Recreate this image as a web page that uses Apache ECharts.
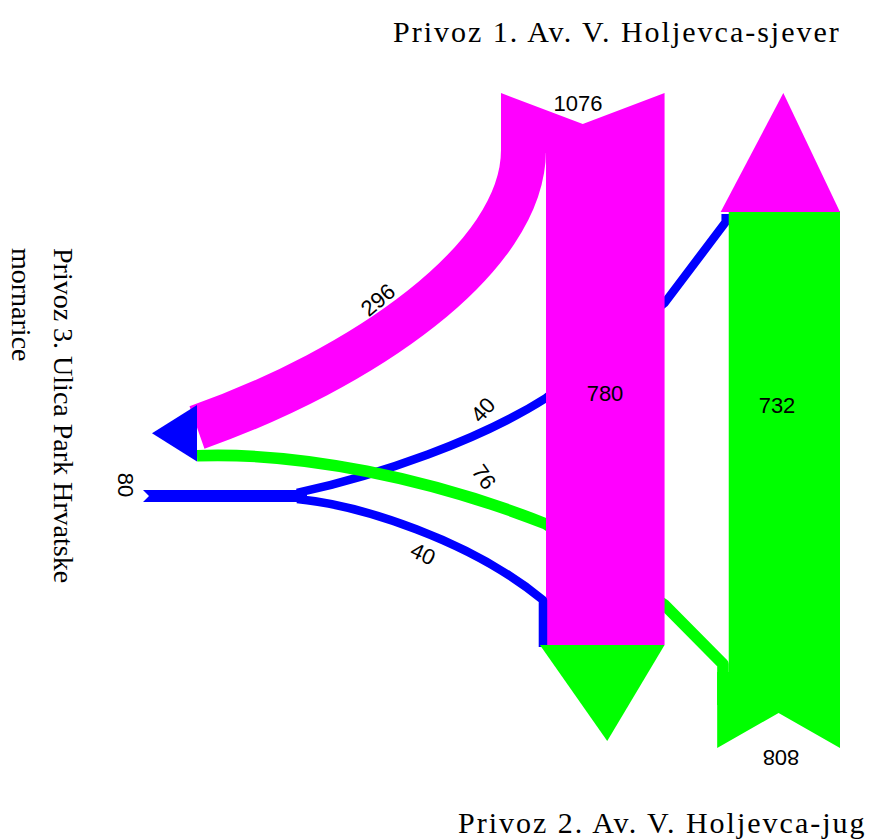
<html>
<head>
<script src="https://cdn.jsdelivr.net/npm/echarts@6/dist/echarts.min.js"></script>
<style>
  body { margin: 0; background: #fff; }
  #main { width: 881px; height: 839px; }
  /* the old plot had its serif captions spaced out */
  #main text[style*="30px"] { letter-spacing: 2px; }
</style>
</head>
<body>
<div id="main"></div>
<script type="text/javascript">
// arms of the intersection: 0 = sjever, 1 = jug, 2 = Park Hrvatske mornarice
var approaches = ['Privoz 1. Av. V. Holjevca-sjever', 'Privoz 2. Av. V. Holjevca-jug', 'Privoz 3. Ulica Park Hrvatske\nmornarice'];
var armColors = ['#ff00ff', '#00ff00', '#0000ff'];

// turning volumes (veh/h)
var flowFrom  = [0, 0, 1, 1, 2, 2];
var flowTo    = [1, 2, 0, 2, 0, 1];
var flowValue = [780, 296, 732, 76, 40, 40];

var inflow = [0, 0, 0], outflow = [0, 0, 0];
flowValue.forEach(function (v, i) {
    inflow[flowFrom[i]] += v;
    outflow[flowTo[i]] += v;
});

// layout of the arms, in pixels of the hidden 881x839 axes
var K = 0.152;      // band width per vehicle
var MIN_BAND = 8.5; // thin turns were drawn a bit fatter
var N = { left: 546, top: 93, bottom: 645, notch: 31, exitTip: 741 };
var S = { right: 840, top: 211, bottom: 748, notch: 35, exitTip: 93 };
var W = { x: 143, y: 496, split: 307, exitX: 197, exitTop: 405, exitTip: 152 };

var nL = N.left, nR = N.left + flowValue[0] * K, nL0 = N.left - flowValue[1] * K;
var sR = S.right, sL = S.right - inflow[1] * K, sLu = S.right - flowValue[2] * K;
var nExitL = S.right - outflow[0] * K;
var sExitL = N.left - flowValue[5] * K;
var wExitBot = W.exitTop + outflow[2] * K;
var hW = inflow[2] * K;

function polygon(api, pts, color) {
    return {
        type: 'polygon',
        shape: { points: pts.map(function (p) { return api.coord(p); }) },
        style: { fill: color }
    };
}
function band(api, segs, v, color) {
    var d = segs.map(function (s) {
        var out = s[0];
        for (var i = 1; i < s.length; i += 2) {
            var q = api.coord([s[i], s[i + 1]]);
            out += ' ' + q[0] + ' ' + q[1];
        }
        return out;
    }).join(' ');
    var w = Math.max(api.size([0, v * K])[1], MIN_BAND);
    return {
        type: 'path',
        shape: { pathData: d },
        style: { fill: 'none', stroke: color, lineWidth: w, lineJoin: 'round', lineCap: 'butt' }
    };
}

// drawn in this order (bands that pass behind the north column first)
var marks = [
    function (api) { // Park Hrvatske -> sjever
        var x = nExitL + flowValue[4] * K / 2;
        return band(api, [['M', W.split - 10, W.y - hW / 2 + flowValue[4] * K / 2],
            ['C', 380, 475, 480, 440, nL, 398], ['L', nR, 303], ['L', x, 222], ['L', x, S.top + 3]],
            flowValue[4], armColors[2]);
    },
    function (api) { // jug -> Park Hrvatske
        var x = sL + flowValue[3] * K / 2;
        return band(api, [['M', x, 705], ['L', x, 664], ['L', nR, 605], ['L', nL, 524],
            ['C', 430, 478, 300, 452, W.exitX, W.exitTop + flowValue[1] * K + flowValue[3] * K / 2]],
            flowValue[3], armColors[1]);
    },
    function (api) { // sjever entry + straight flow
        return polygon(api, [[nL0, N.top], [(nL0 + nR) / 2, N.top + N.notch], [nR, N.top], [nR, N.bottom],
            [nL, N.bottom], [nL, N.top + 60], [nL0, N.top + 60]], armColors[0]);
    },
    function (api) { // sjever -> Park Hrvatske
        var x = nL0 + flowValue[1] * K / 2;
        return band(api, [['M', x, N.top + 40], ['L', x, 150], ['C', x, 260, 360, 370, W.exitX, W.exitTop + flowValue[1] * K / 2]],
            flowValue[1], armColors[0]);
    },
    function (api) { // Park Hrvatske exit
        return polygon(api, [[W.exitX, W.exitTop], [W.exitX, wExitBot], [W.exitTip, (W.exitTop + wExitBot) / 2]], armColors[2]);
    },
    function (api) { // jug entry + straight flow
        return polygon(api, [[sLu, S.top], [sR, S.top], [sR, S.bottom], [(sL + sR) / 2, S.bottom - S.notch],
            [sL, S.bottom], [sL, 672], [sLu, 672]], armColors[1]);
    },
    function (api) { // sjever exit
        return polygon(api, [[nExitL - 2, S.top + 1], [sR, S.top + 1], [(nExitL + sR) / 2 + 2, S.exitTip]], armColors[0]);
    },
    function (api) { // Park Hrvatske -> jug
        var x = nL - flowValue[5] * K / 2;
        return band(api, [['M', W.split - 10, W.y + hW / 2 - flowValue[5] * K / 2],
            ['C', 360, 505, 470, 540, x, 600], ['L', x, N.bottom + 2]],
            flowValue[5], armColors[2]);
    },
    function (api) { // jug exit
        return polygon(api, [[sExitL, N.bottom], [nR, N.bottom], [(sExitL + nR) / 2 + 5, N.exitTip]], armColors[1]);
    },
    function (api) { // Park Hrvatske entry
        return polygon(api, [[W.x, W.y - hW / 2], [W.x + 6, W.y], [W.x, W.y + hW / 2],
            [W.split, W.y + hW / 2], [W.split, W.y - hW / 2]], armColors[2]);
    }
];

var valueLabels = [
    { text: inflow[0], at: [578, 103], rot: 0 },
    { text: flowValue[0], at: [605, 393], rot: 0 },
    { text: flowValue[2], at: [777, 405], rot: 0 },
    { text: inflow[1], at: [781, 757], rot: 180 },
    { text: flowValue[1], at: [378, 300], rot: 40 },
    { text: flowValue[4], at: [483, 410], rot: 48 },
    { text: flowValue[3], at: [484, 477], rot: -55 },
    { text: flowValue[5], at: [423, 554], rot: -25 },
    { text: inflow[2], at: [125, 485], rot: -90 }
];

var dom = document.getElementById('main');
var myChart = echarts.init(dom, null, { renderer: 'svg' });

var westLines = approaches[2].split('\n');

var option = {
    animation: false,
    grid: { left: 0, right: 0, top: 0, bottom: 0 },
    xAxis: { type: 'value', min: 0, max: 881, show: false },
    yAxis: { type: 'value', min: 0, max: 839, inverse: true, show: false },
    series: [
        {
            type: 'custom',
            clip: false,
            silent: true,
            data: marks.map(function (m, i) { return [i, 0]; }),
            renderItem: function (params, api) {
                return marks[params.dataIndex](api);
            }
        },
        {
            type: 'custom',
            clip: false,
            silent: true,
            z: 5,
            data: valueLabels.map(function (l) { return l.at; }),
            renderItem: function (params, api) {
                var l = valueLabels[params.dataIndex];
                var p = api.coord(l.at);
                return {
                    type: 'text',
                    x: p[0], y: p[1],
                    rotation: l.rot * Math.PI / 180,
                    style: {
                        text: String(l.text),
                        fill: '#000',
                        font: '22px Liberation Sans',
                        align: 'center',
                        verticalAlign: 'middle'
                    }
                };
            }
        }
    ],
    graphic: [
        { type: 'text', x: 393, y: 31, style: { text: approaches[0], fill: '#000', font: '30px Liberation Serif', align: 'left', verticalAlign: 'middle' } },
        { type: 'text', x: 458, y: 822, style: { text: approaches[1], fill: '#000', font: '30px Liberation Serif', align: 'left', verticalAlign: 'middle' } },
        { type: 'text', x: 63, y: 248, rotation: -Math.PI / 2, style: { text: westLines[0], fill: '#000', font: '28px Liberation Serif', align: 'left', verticalAlign: 'middle' } },
        { type: 'text', x: 21, y: 248, rotation: -Math.PI / 2, style: { text: westLines[1], fill: '#000', font: '28px Liberation Serif', align: 'left', verticalAlign: 'middle' } }
    ]
};
myChart.setOption(option);
window.addEventListener('resize', myChart.resize);
</script>
</body>
</html>
